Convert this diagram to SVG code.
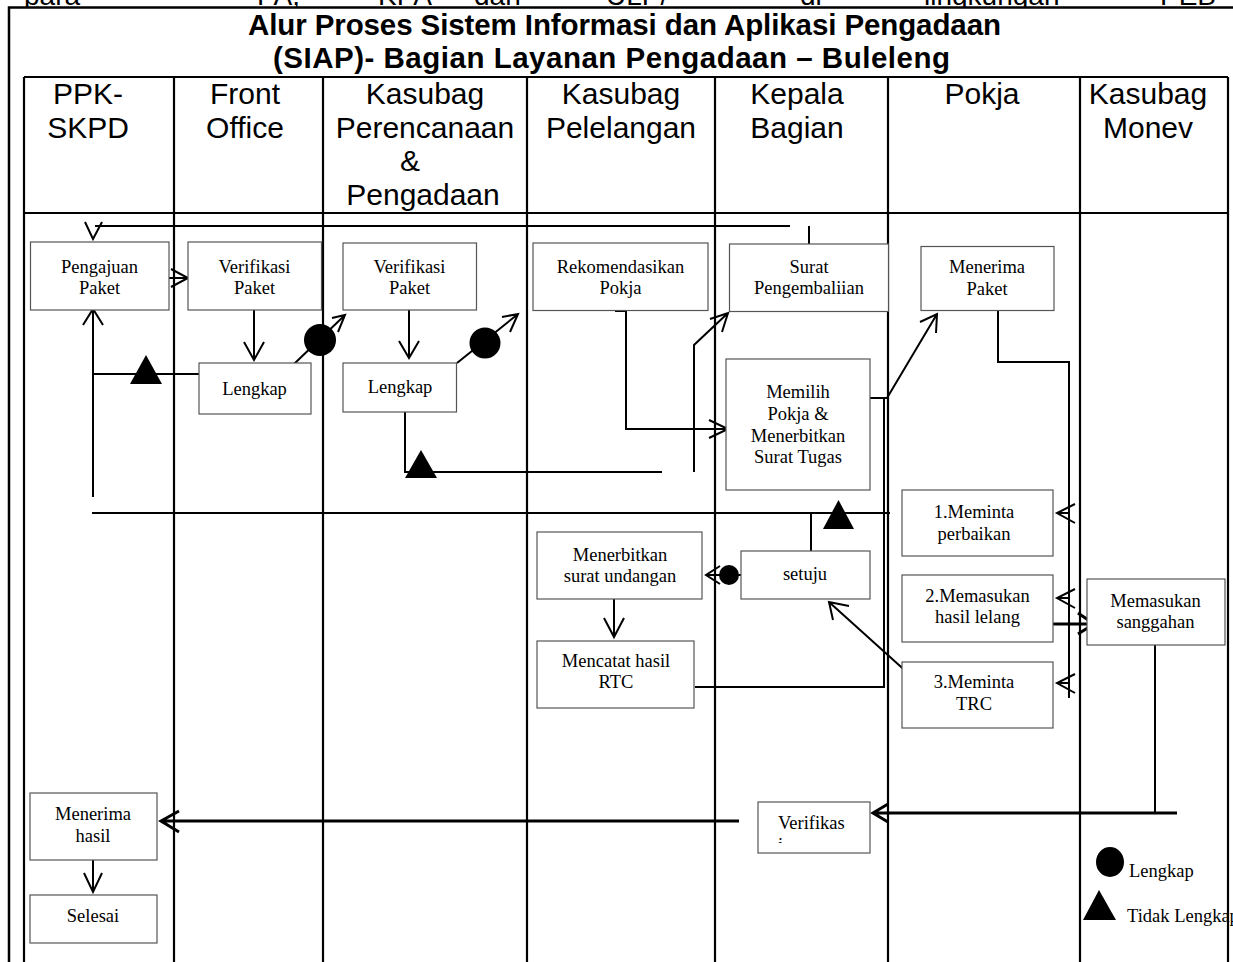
<svg xmlns="http://www.w3.org/2000/svg" width="1233" height="962" viewBox="0 0 1233 962">
<style>
.ln{stroke:#000;stroke-width:2;fill:none;stroke-linecap:butt;stroke-linejoin:miter}
.thk{stroke-width:3}
.grid{stroke:#000;stroke-width:2.2;fill:none}
.box{fill:#fff;stroke:#555;stroke-width:1.2}
.t{font-family:"Liberation Serif","Times New Roman",serif;font-size:18.5px;text-anchor:middle;fill:#000}
.ts{font-family:"Liberation Serif","Times New Roman",serif;font-size:18.5px;text-anchor:start;fill:#000}
.h{font-family:"Liberation Sans",Arial,sans-serif;font-size:30px;text-anchor:middle;fill:#000}
.ti{font-family:"Liberation Sans",Arial,sans-serif;font-size:29.5px;font-weight:bold;fill:#000}
.top{font-family:"Liberation Sans",Arial,sans-serif;font-size:28px;fill:#000}
.blk{fill:#000;stroke:none}
</style>
<defs>
<clipPath id="vclip"><rect x="758" y="802" width="112" height="41"/></clipPath>
</defs>
<rect x="0" y="0" width="1233" height="962" fill="#fff"/>
<g id="cut-text">
<text class="top" x="24" y="5">para</text>
<text class="top" x="257" y="5">PA,</text>
<text class="top" x="378" y="5">KPA</text>
<text class="top" x="474" y="5">dan</text>
<text class="top" x="606" y="5">ULP/</text>
<text class="top" x="800" y="5">di</text>
<text class="top" x="924" y="5">lingkungan</text>
<text class="top" x="1160" y="5">PEB</text>
</g>
<g id="frame">
<rect x="9" y="7.5" width="1240" height="970" fill="#fff" stroke="#000" stroke-width="2.5"/>
<text class="ti" x="248" y="35" textLength="753">Alur Proses Sistem Informasi dan Aplikasi Pengadaan</text>
<text class="ti" x="273" y="68" textLength="677">(SIAP)- Bagian Layanan Pengadaan – Buleleng</text>
</g>
<g id="lanes">
<path class="grid" d="M24 77H1228M24 213H1228M24 77V962M174 77V962M323 77V962M527 77V962M715 77V962M888 77V962M1080 77V962M1228 77V962"/>
<text class="h" x="88" y="104">PPK-</text>
<text class="h" x="88" y="137.5">SKPD</text>
<text class="h" x="245" y="104">Front</text>
<text class="h" x="245" y="137.5">Office</text>
<text class="h" x="425" y="104">Kasubag</text>
<text class="h" x="425" y="137.5">Perencanaan</text>
<text class="h" x="410" y="171">&amp;</text>
<text class="h" x="423" y="204.5">Pengadaan</text>
<text class="h" x="621" y="104">Kasubag</text>
<text class="h" x="621" y="137.5">Pelelangan</text>
<text class="h" x="797" y="104">Kepala</text>
<text class="h" x="797" y="137.5">Bagian</text>
<text class="h" x="982" y="104">Pokja</text>
<text class="h" x="1148" y="104">Kasubag</text>
<text class="h" x="1148" y="137.5">Monev</text>
</g>
<g id="connectors">
<path class="ln" d="M809 244V226M790 226H95"/>
<path class="ln" d="M85 222L93 239L102 222"/>
<path class="ln" d="M169 278H188M171 269L188 278L171 287"/>
<path class="ln" d="M254 310V360M244 342L254 360L264 342"/>
<path class="ln" d="M205 374H93"/>
<polygon class="blk" points="130,384 162,384 146,355"/>
<path class="ln" d="M93 497V309M83 325L93 309L103 325"/>
<path class="ln" d="M294 364L345 315M332 318L345 315L338 332"/>
<circle class="blk" cx="320" cy="340" r="16"/>
<path class="ln" d="M409 310V358M399 341L409 358L419 341"/>
<path class="ln" d="M457 363L518 314M502 317L518 314L510 332"/>
<circle class="blk" cx="485" cy="343" r="15.5"/>
<path class="ln" d="M405 412V472H662"/>
<polygon class="blk" points="405,478 437,478 421,450"/>
<path class="ln" d="M694 472V345L728 313M710 319L728 313L722 332"/>
<path class="ln" d="M615 311H626V429H727M709 420L728 429L709 438"/>
<path class="ln" d="M870 398H887L937 314M920 322L937 314L936 333"/>
<path class="ln" d="M998 311V362H1069V698"/>
<path class="ln" d="M1069 513H1057M1075 504L1057 513L1075 523"/>
<path class="ln" d="M1069 598H1057M1075 589L1057 598L1075 608"/>
<path class="ln" d="M1069 683H1057M1075 674L1057 683L1075 693"/>
<path class="ln thk" d="M1053 624H1093M1078 613L1094 624L1078 634"/>
<path class="ln" d="M1155 645V813"/>
<path class="ln thk" d="M1177 813H874M888 804L873 813L888 822"/>
<path class="ln thk" d="M739 821H162M179 811L161 821L179 832"/>
<path class="ln" d="M93 860V891M84 873L93 892L102 873"/>
<path class="ln" d="M92 513H890M811 513V551"/>
<polygon class="blk" points="823,529 854,529 838.5,500"/>
<path class="ln" d="M741 575H707M720 566L706 575L720 584"/>
<circle class="blk" cx="729" cy="575" r="10"/>
<path class="ln" d="M614 599V636M604 618L614 637L624 618"/>
<path class="ln" d="M695 687H884V398"/>
<path class="ln" d="M910 675L829 602M833 620L829 602L849 606"/>
</g>
<g id="n1"><rect class="box" x="30.5" y="242" width="138.5" height="68"/><text class="t" x="99.5" y="273">Pengajuan</text><text class="t" x="99.5" y="294">Paket</text></g>
<g id="n2"><rect class="box" x="188" y="242" width="133.5" height="68"/><text class="t" x="254.5" y="273">Verifikasi</text><text class="t" x="254.5" y="294">Paket</text></g>
<g id="n3"><rect class="box" x="199" y="363" width="112" height="51"/><text class="t" x="254.5" y="395">Lengkap</text></g>
<g id="n4"><rect class="box" x="343" y="243" width="133.5" height="67"/><text class="t" x="409.5" y="273">Verifikasi</text><text class="t" x="409.5" y="294">Paket</text></g>
<g id="n5"><rect class="box" x="343" y="363" width="113.5" height="49"/><text class="t" x="400" y="393">Lengkap</text></g>
<g id="n6"><rect class="box" x="533" y="243" width="175" height="67.5"/><text class="t" x="620.5" y="273">Rekomendasikan</text><text class="t" x="620.5" y="294">Pokja</text></g>
<g id="n7"><rect class="box" x="729.5" y="244" width="159" height="67.5"/><text class="t" x="809" y="273">Surat</text><text class="t" x="809" y="294">Pengembaliian</text></g>
<g id="n8"><rect class="box" x="726" y="359" width="144" height="131"/><text class="t" x="798" y="398">Memilih</text><text class="t" x="798" y="419.5">Pokja &amp;</text><text class="t" x="798" y="441.5">Menerbitkan</text><text class="t" x="798" y="463">Surat Tugas</text></g>
<g id="n9"><rect class="box" x="921" y="246.5" width="133" height="64"/><text class="t" x="987" y="273">Menerima</text><text class="t" x="987" y="295">Paket</text></g>
<g id="n10"><rect class="box" x="902" y="490" width="151" height="66"/><text class="t" x="974" y="518">1.Meminta</text><text class="t" x="974" y="540">perbaikan</text></g>
<g id="n11"><rect class="box" x="902" y="575" width="151" height="67"/><text class="t" x="977.5" y="602">2.Memasukan</text><text class="t" x="977.5" y="623">hasil lelang</text></g>
<g id="n12"><rect class="box" x="902" y="662" width="151" height="66"/><text class="t" x="974" y="688">3.Meminta</text><text class="t" x="974" y="710">TRC</text></g>
<g id="n13"><rect class="box" x="1087" y="579" width="138" height="66"/><text class="t" x="1155.5" y="607">Memasukan</text><text class="t" x="1155.5" y="628">sanggahan</text></g>
<g id="n14"><rect class="box" x="741" y="551" width="129" height="48"/><text class="t" x="805" y="580">setuju</text></g>
<g id="n15"><rect class="box" x="537" y="532" width="165" height="67"/><text class="t" x="620" y="561">Menerbitkan</text><text class="t" x="620" y="582">surat undangan</text></g>
<g id="n16"><rect class="box" x="537" y="641" width="157" height="67"/><text class="t" x="616" y="667">Mencatat hasil</text><text class="t" x="616" y="688">RTC</text></g>
<g id="n17"><rect class="box" x="758" y="802" width="112" height="51"/><text class="ts" x="778" y="829">Verifikas</text><text class="ts" x="778" y="851" clip-path="url(#vclip)">i</text></g>
<g id="n18"><rect class="box" x="30" y="793" width="127" height="67"/><text class="t" x="93" y="820">Menerima</text><text class="t" x="93" y="842">hasil</text></g>
<g id="n19"><rect class="box" x="30" y="895" width="127" height="48"/><text class="t" x="93" y="922">Selesai</text></g>
<g id="legend">
<ellipse class="blk" cx="1110" cy="862" rx="14" ry="15"/>
<text class="ts" x="1129" y="877">Lengkap</text>
<polygon class="blk" points="1099,890 1083,920 1116,920"/>
<text class="ts" x="1127" y="922">Tidak Lengkap</text>
</g>
</svg>
